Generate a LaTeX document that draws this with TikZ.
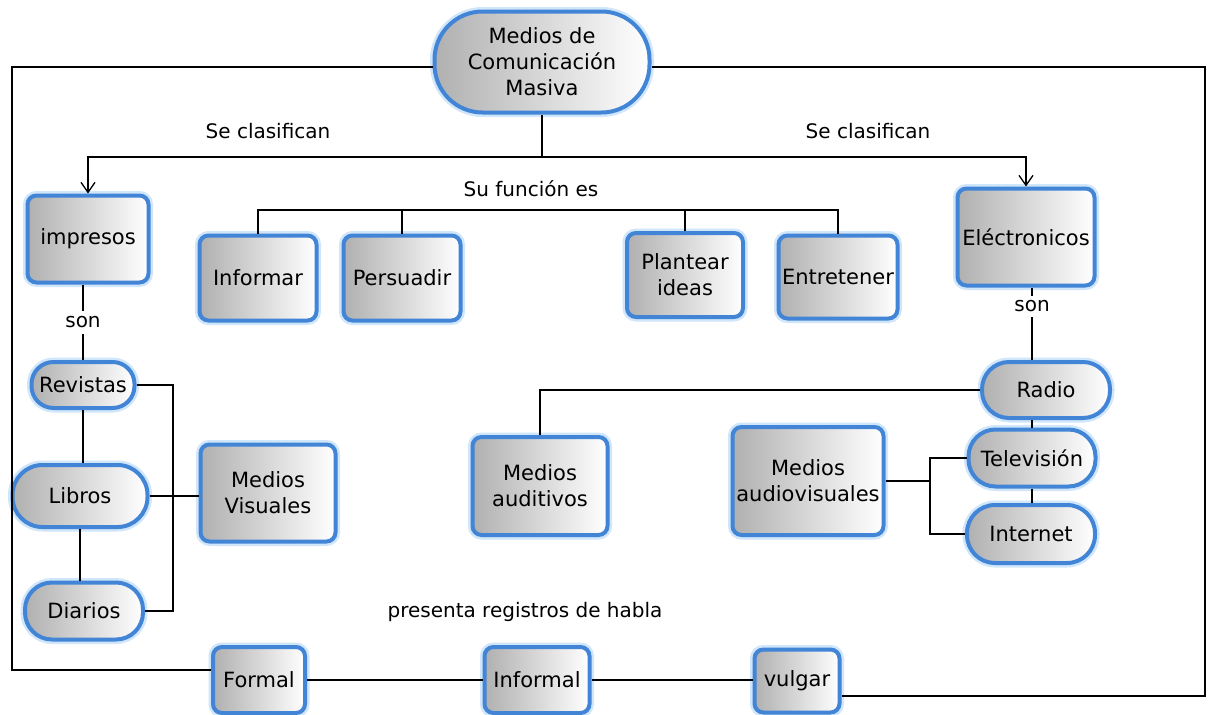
\documentclass[tikz,border=0pt]{standalone}
\usepackage{fontspec}
\setmainfont{DejaVu Sans}
\usetikzlibrary{arrows.meta, positioning}
\definecolor{framecolor}{RGB}{66,133,214}
\definecolor{glowcolor}{RGB}{208,230,250}

\begin{document}
\begin{tikzpicture}[
    x=1pt, y=-1pt,
    concept/.style={draw=framecolor, line width=4pt, rounded corners=9pt, left color=gray!62, right color=white, font=\fontsize{21}{26}\selectfont, align=center, inner sep=1pt, preaction={draw=glowcolor, line width=9pt}},
    pill/.style={concept, rounded corners=#1},
    link/.style={line width=1.3pt},
    arrow/.style={link, -{Straight Barb[length=10pt, width=14pt]}},
    tag/.style={font=\fontsize{20}{24}\selectfont, fill=white, inner sep=2pt}
]
    \fill[white] (0,0) rectangle (1219,715);
    \useasboundingbox (0,0) rectangle (1219,715);

    % Main concept
    \node[pill=48, minimum width=215, minimum height=101] (main) at (542,62) {Medios de\\Comunicación\\Masiva};

    % First level
    \node[concept, minimum width=121, minimum height=87] (impresos) at (88,239) {impresos};
    \node[concept, minimum width=117, minimum height=85] (informar) at (258,278) {Informar};
    \node[concept, minimum width=117, minimum height=85] (persuadir) at (402,278) {Persuadir};
    \node[concept, minimum width=116, minimum height=84] (plantear) at (685,275) {Plantear\\ideas};
    \node[concept, minimum width=119, minimum height=83] (entretener) at (838,277) {Entretener};
    \node[concept, minimum width=137, minimum height=97] (electronicos) at (1026,237) {Eléctronicos};

    % Printed media
    \node[pill=22, minimum width=103, minimum height=46] (revistas) at (83,385) {Revistas};
    \node[pill=30, minimum width=135, minimum height=62] (libros) at (80,496) {Libros};
    \node[pill=27, minimum width=118, minimum height=57] (diarios) at (84,611) {Diarios};
    \node[concept, minimum width=135, minimum height=97] (visuales) at (268,493) {Medios\\Visuales};

    % Electronic media
    \node[pill=27, minimum width=128, minimum height=56] (radio) at (1046,390) {Radio};
    \node[pill=27, minimum width=127, minimum height=57] (tele) at (1032,458) {Televisión};
    \node[pill=28, minimum width=128, minimum height=58] (internet) at (1031,534) {Internet};
    \node[concept, minimum width=135, minimum height=98] (auditivos) at (540,486) {Medios\\auditivos};
    \node[concept, minimum width=151, minimum height=108] (audiovisuales) at (808,481) {Medios\\audiovisuales};

    % Speech registers
    \node[concept, minimum width=92, minimum height=66] (formal) at (259,680) {Formal};
    \node[concept, minimum width=105, minimum height=66] (informal) at (537,680) {Informal};
    \node[concept, minimum width=85, minimum height=63] (vulgar) at (797,681) {vulgar};

    % Labels
    \node[tag] (clasifa) at (268,131) {Se clasifican};
    \node[tag] (clasifb) at (868,131) {Se clasifican};
    \node[tag] (funcion) at (531,189) {Su función es};
    \node[tag] (presenta) at (525,612) {presenta registros de habla};

    % Helper points
    \coordinate (split) at (542,157);
    \coordinate (bar) at (0,210);
    \coordinate (brx) at (173,0);
    \coordinate (avx) at (930,0);
    \coordinate (fl) at (12,67);
    \coordinate (fr) at (1205,67);

    % Classification
    \draw[link] (main.south) -- (split);
    \draw[arrow] (split) -| (impresos.north);
    \draw[arrow] (split) -| (electronicos.north);

    % Functions
    \draw[link] (informar.north) |- (entretener.north |- bar) -- (entretener.north);
    \draw[link] (persuadir.north) -- (persuadir.north |- bar);
    \draw[link] (plantear.north) -- (plantear.north |- bar);

    % Printed
    \draw[link] (impresos.south -| revistas.north) -- (revistas.north) node[tag, inner sep=6pt, pos=0.5] {son};
    \draw[link] (revistas.south) -- (revistas.south |- libros.north);
    \draw[line width=2pt] (libros.south) -- (libros.south |- diarios.north);
    \draw[link] (revistas.east) -| (diarios.east -| brx) -- (diarios.east);
    \draw[link] (libros.east) -- (libros.east -| visuales.west);

    % Electronic
    \draw[link] (electronicos.south -| tele) -- (radio.north -| tele) node[tag, inner sep=5pt, pos=0.26] {son};
    \draw[link] (radio.south -| tele) -- (tele.north);
    \draw[link] (tele.south) -- (tele.south |- internet.north);
    \draw[link] (radio.west) -| (auditivos.north);
    \draw[link] (audiovisuales.east) -- (audiovisuales.east -| avx);
    \draw[link] (tele.west) -| (internet.west -| avx) -- (internet.west);

    % Registers
    \draw[link] (formal.east) -- (informal.west);
    \draw[link] (informal.east) -- (informal.east -| vulgar.west);
    \draw[link] (main.west |- fl) -- (fl) |- ([yshift=10pt]formal.west);
    \draw[link] (main.east |- fr) -- (fr) |- ([yshift=-15pt]vulgar.east);
\end{tikzpicture}
\end{document}
